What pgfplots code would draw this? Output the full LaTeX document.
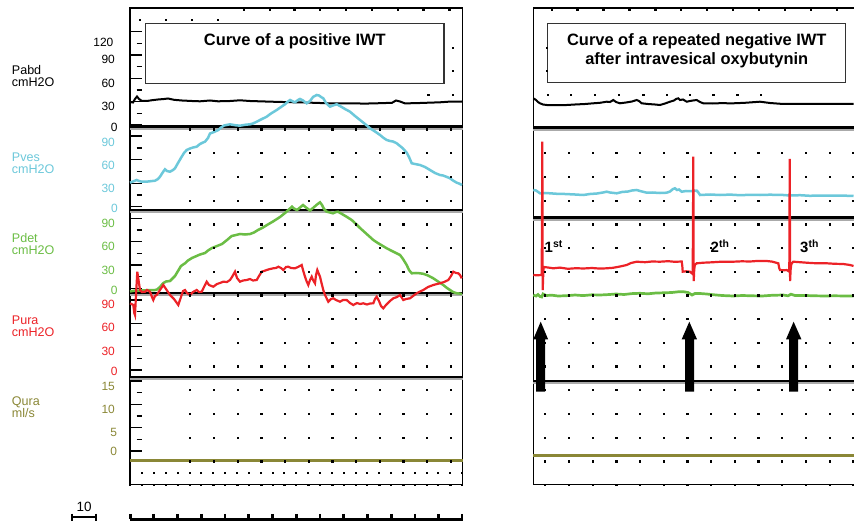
\documentclass[border=0pt]{standalone}
\usepackage{fontspec}
\setmainfont{Liberation Sans}
\usepackage{pgfplots}
\pgfplotsset{compat=1.18}
\definecolor{cyanc}{HTML}{6CC8DA}
\definecolor{greenc}{HTML}{6BBD45}
\definecolor{redc}{HTML}{EC2227}
\definecolor{olivec}{HTML}{8A8736}
\definecolor{shadow}{HTML}{AAAAAA}
\begin{document}
\begin{tikzpicture}
\begin{axis}[name=ax, scale only axis, width=854bp, height=522bp,
  xmin=0, xmax=854, ymin=0, ymax=522, y dir=reverse,
  hide axis, clip=false]
% invisible corners
\addplot[draw=none] coordinates {(0,0) (854,522)};
% ---------- dot grid ----------
\addplot[only marks, mark=square*, mark size=0.65bp, black] coordinates {
   (190,129.3) (213.7,129.3) (237.4,129.3) (261.1,129.3) (284.8,129.3) (308.5,129.3) (332.2,129.3) (355.9,129.3) (379.6,129.3) (403.3,129.3) (427,129.3) (450.7,129.3)};
\pgfplotsinvokeforeach{153,176.7,200.4,224.1,247.8,271.5,295.2,318.9,342.6,366.3,390,413.7,437.4,461.1,484.8}{
  \addplot[only marks, mark=square*, mark size=0.65bp, black] coordinates {
   (190,#1) (213.7,#1) (237.4,#1) (261.1,#1) (284.8,#1) (308.5,#1) (332.2,#1) (355.9,#1) (379.6,#1) (403.3,#1) (427,#1) (450.7,#1)};
  \addplot[only marks, mark=square*, mark size=0.65bp, black] coordinates {
   (545,#1) (568.7,#1) (592.4,#1) (616.1,#1) (639.8,#1) (663.5,#1) (687.2,#1) (710.9,#1) (734.6,#1) (758.3,#1) (782,#1) (805.7,#1) (829.4,#1) (853.1,#1)};
}
\addplot[only marks, mark=square*, mark size=0.65bp, black] coordinates {
 (140,20) (166,20) (192,20) (218,20) (244,9.5) (270,9.5) (294.3,9.5) (320,9.5) (346,9.5) (372,9.5) (397.7,9.5) (423.3,9.5) (449.3,9.5)
 (428.3,95) (452.7,95) (452.7,47.7) (452.7,71)
 (551.7,9.5) (577.3,9.5) (603.3,9.5) (629.3,9.5) (655.3,9.5) (681,9.5) (707,9.5) (733,9.5) (759,9.5) (785,9.5) (810.7,9.5) (836.7,9.5)
 (546.7,47.7) (546.7,71)
 (547.7,95) (571,95) (595,95) (619,95) (643.3,95) (666.7,95) (690,95) (713.3,95) (737.3,95) (760.7,95)};
\pgfplotsinvokeforeach{472.3,484.3}{
 \addplot[only marks, mark=square*, mark size=0.5bp, black] coordinates {
 (130,#1) (141.9,#1) (153.7,#1) (165.6,#1) (177.4,#1) (189.3,#1) (201.1,#1) (213,#1) (224.8,#1) (236.7,#1) (248.5,#1) (260.4,#1) (272.2,#1) (284.1,#1) (295.9,#1) (307.8,#1) (319.6,#1) (331.5,#1) (343.3,#1) (355.2,#1) (367,#1) (378.9,#1) (390.7,#1) (402.6,#1) (414.4,#1) (426.3,#1) (438.1,#1) (450,#1) (461.8,#1)};
}
% ---------- frames ----------
\addplot[black, line width=1.5bp] coordinates {(130,484.5) (130,8) (462.5,8) (462.5,484.3) (130,484.3)};
\addplot[black, line width=1.5bp] coordinates {(533.3,484.5) (533.3,8) (854,8)};
\addplot[black, line width=1.5bp] coordinates {(533.3,484.3) (854,484.3)};
% ---------- left axis ticks ----------
\pgfplotsinvokeforeach{31.7,55,78.3,101.7,125,136,159.7,183.3,206.7,218.3,241.7,265,288.3,300,323.3,346.7,370,381,404.3,427.7,451}{
 \addplot[black, line width=1.2bp] coordinates {(131,#1) (141.5,#1)};}
\pgfplotsinvokeforeach{43.3,66.7,90,113.3,148,171.7,195,230,253.3,276.7,311.7,335,358.3,392.7,416,439.3}{
 \addplot[black, line width=1.2bp] coordinates {(136.5,#1) (141.5,#1)};}
% ---------- baselines ----------
\pgfplotsinvokeforeach{126.5,210,293,377}{
 \addplot[shadow, line width=1.8bp] coordinates {(130,#1+2.2) (462.5,#1+2.2)};
 \addplot[black, line width=2.3bp] coordinates {(130,#1) (462.5,#1)};}
\pgfplotsinvokeforeach{127.5,217.5,381}{
 \addplot[shadow, line width=1.8bp] coordinates {(533.3,#1+2.2) (854,#1+2.2)};
 \addplot[black, line width=2.3bp] coordinates {(533.3,#1) (854,#1)};}
\addplot[olivec, line width=3bp] coordinates {(130,460.5) (462.5,460.5)};
\addplot[olivec, line width=3bp] coordinates {(533.3,455.5) (854,455.5)};
% ---------- title boxes ----------
\addplot[draw=black!80, line width=1.3bp, fill=white] coordinates {(145.7,23.3) (444,23.3) (444,83.3) (145.7,83.3)} -- cycle;
\addplot[draw=black!80, line width=1.3bp, fill=white] coordinates {(547.7,23.3) (845.7,23.3) (845.7,82.7) (547.7,82.7)} -- cycle;
% ---------- left panel traces ----------
% Pabd
\addplot[black, line width=2bp] coordinates {
(130,102) (133,102.5) (135,99) (137,96.5) (139,99) (142,101) (147,101) (152,100.2) (158,99.5) (164,99) (168,98.5) (174,99.8) (182,100.5) (192,101) (200,101.3) (210,100.5) (218,101.3) (230,101) (240,100.3) (250,101) (262,101.4) (275,101.8) (290,102.2) (305,102.5) (320,103) (335,103.5) (350,103.3) (365,103.6) (380,103.2) (392,102.8) (396,100.5) (400,101.5) (405,103.4) (420,103) (440,102.3) (450,101.6) (462,101.5)};
% Pves
\addplot[cyanc, line width=2.5bp] coordinates {
(130,182.7) (133,181.5) (136.7,180) (139,181) (141.7,181.7) (148,181.5) (155,180.7) (158,179) (160,176.7) (163,172) (165,169.3) (167,171) (170,171.7) (173,170) (175,168.3) (178,163) (181.7,156.7) (184,153) (186.7,150) (190,148.5) (193,147.5) (196.7,146.7) (200,144) (203,142.5) (205,141.7) (208,138) (210,133.5) (214,132) (218.3,130) (221,127.5) (224,125.5) (230,124.3) (235,125.2) (240,125.7) (245,124.8) (250,124.3) (253,123.5) (256.7,121.7) (261,119.5) (266.7,116.7) (271,113.5) (276.7,110) (281,107) (285,104.3) (288,101.5) (290,100) (293,101.5) (295,102.3) (298,100) (300,99) (303,100.5) (306.7,103.3) (310,101) (313,97) (316.7,95) (319,95.5) (321,97) (323.3,98.3) (326,103) (330,106.7) (333,105.5) (336.7,104.3) (340,106) (345,109) (350,111.7) (355,116) (360,120) (365,124) (370,128.3) (375,131.5) (380,135) (383,137.5) (386.7,140) (390,141) (393,141.5) (396.7,143.3) (400,146) (403,148.5) (406.7,152.7) (409,157) (411.7,163.3) (415,164) (420,165) (425,167) (430,170) (435,173) (440,175) (443,175.5) (447,177) (450,178.3) (453,180.5) (456.7,182.7) (459,183.5) (462,185)};
% Pdet
\addplot[greenc, line width=2.5bp] coordinates {
(130,291.5) (135,290.5) (140,290.5) (145,290.3) (150,290) (155,290) (157,289.5) (160,287) (163,283.3) (166,281.5) (170,281) (172,279) (175,276) (178,271) (181,266) (185,263.3) (188,260.5) (192,258) (195,256.7) (200,254.5) (205,253) (208,250.5) (212,248) (217,246) (222,244) (227,240) (231.7,236) (236,235) (240,234) (245,234.5) (250,234) (254,232.5) (258,230) (263,227.5) (267,225) (273,221.5) (280,217) (285,213) (290,208.5) (292,206.7) (294,208.5) (297,210) (300,207.5) (303,205) (306,207.5) (310,210.5) (313,208) (317,204.5) (320,202.3) (322,205) (324,209) (326.7,211.7) (330,212.5) (333,213.3) (336,212) (338,211.7) (342,214) (347,217) (351.7,220) (356,224) (360,228) (365,232.5) (370,237) (373.3,240) (377,242.5) (382,245.5) (386.7,248.3) (392,251) (396,253) (400,255) (403,259) (406.7,265) (409,270) (411.7,273.3) (416,273) (420,273.3) (423.3,273.8) (428,275.5) (433.3,278.3) (438,281.5) (443.3,285) (447,288) (450,290) (453,292) (456.7,293.3) (459,293.5) (462,294)};
% Pura
\addplot[redc, line width=2.2bp] coordinates {
(130,303.3) (131.5,304) (133.3,305) (134.3,313) (135,315) (136,295) (137.3,271.7) (138.5,280) (140,290) (142,292) (145,291.7) (147,290) (150,291.7) (152,297) (153.3,300) (155,296) (156.7,295) (160,290) (163.3,285) (166,289) (170,295) (174,299) (178.3,305) (181,297) (183,291) (185,290) (187,293) (190,295) (193,292) (196.7,290) (199,292) (201.7,291.7) (204,287) (206.7,281.7) (209,285) (213.3,286.7) (217,284) (220,283) (223.3,281.7) (227,282) (230,280) (232,277) (235,271.7) (237,278) (240,281.7) (243,280.5) (246.7,280) (250,279) (253,280.5) (256.7,280) (259,276) (261.7,271.7) (264,271) (266.7,270) (270,269) (273.3,268.3) (276,268) (278.3,266.7) (281,268) (283.3,270) (286,267) (288.3,266.7) (291,268) (295,268.3) (298,267) (301.7,265) (303,270) (305,276.7) (306.5,281) (308.3,285) (310,280) (311.7,276.7) (313,280) (315,283.3) (316,275) (317.3,270) (318.5,273) (320,276.7) (321.5,283) (323.3,290) (325,295) (328.3,301.7) (331,299) (333.3,298.3) (336,300) (340,301.7) (343,300) (346.7,300) (350,303) (353.3,305) (357,303) (360,304) (363.3,303.3) (367,304.5) (370,303.5) (373.3,303.3) (375,299) (376.7,296.7) (379,301) (381,306) (383.3,308.3) (386,305) (390,301) (393.3,298.3) (397,297) (400,295) (402,298) (403.3,300) (406,299) (410,298.3) (413,296) (416.7,293.3) (420,291.5) (423.3,290) (428,287) (433.3,285) (437,284) (440,283.3) (444,282) (448.3,280) (451,276) (453.3,271.7) (456,273) (458.3,273.3) (460,275) (461.7,278.3)};
% ---------- right panel traces ----------
\addplot[black, line width=2bp] coordinates {
(533.3,98.3) (536,100) (538,102) (540,103.3) (543,104.5) (546.7,105) (555,105.2) (566.7,105) (575,104.5) (585,104) (593.3,103.3) (600,102.8) (606.7,101.7) (610,102) (613.3,100) (616,102) (620,103.3) (626,102.5) (632,101.5) (636.7,100) (639,101) (641.7,103.3) (648,104) (655,104.5) (660,105) (665,103.5) (670,101.7) (674,100.5) (676,99) (678.3,98.3) (680,100) (683,99.5) (686.7,101.7) (690,101) (693,100.5) (696.7,100) (700,102) (703.3,103.3) (712,103.5) (720,103.2) (733.3,103.3) (745,102.8) (760,101.7) (770,103) (783.3,104) (800,104) (820,103.8) (840,104) (853.5,104)};
\addplot[cyanc, line width=2.5bp] coordinates {
(533.3,190) (536,190.5) (540,193.3) (545,193) (550,193.3) (557,193.8) (565,194) (575,194.5) (583.3,195) (590,194) (597,193.5) (603,192.5) (606.7,191.7) (610,192.5) (616.7,193.3) (622,192) (628,191.5) (632,190.5) (636.7,190) (640,191) (646.7,192.7) (652,192.5) (660,193) (666.7,192.7) (670,191.5) (673,189) (675,188.3) (677,190) (679,189.5) (681.7,191.7) (686,191) (690,191.2) (694,190.8) (696.7,190.7) (698,192) (700,195) (710,194.5) (720,195) (730,194.6) (740,195.2) (750,194.8) (760,195) (770,194.7) (783.3,195) (790,195.5) (800,195.2) (810,195.8) (820,195.5) (830,195.7) (840,195.5) (853.5,196)};
\addplot[greenc, line width=2.7bp] coordinates {
(533.3,295) (536,296) (538,294.5) (540,296.5) (541.7,297) (543,294) (546,295.5) (552,295.2) (558,296) (566.7,295.7) (575,295) (583,295.6) (592,294.8) (600,295) (608,294.6) (616,294) (624,294.5) (632,293.6) (640,293.3) (648,293.8) (656,293) (664,292.8) (672,292.5) (678,291.8) (683.3,291.7) (688,292.5) (692,295) (695,293.5) (700,293.5) (706.7,294) (714,294.8) (722,295.5) (733.3,296) (742,295.5) (752,295.8) (762,296) (772,295.3) (783.3,295) (788,295.8) (791,294.2) (795,295.5) (805,295.5) (815,295.8) (825,296) (835,295.8) (845,296) (853.5,296)};
\addplot[redc, line width=2.2bp] coordinates {
(533.3,275) (537,275.3) (541.7,275) (542.1,200) (542.3,141.7) (542.5,220) (542.7,290) (543.2,275) (543.6,267) (548,267.5) (553.3,268.3) (560,267.6) (568,268.8) (576,268.2) (583.3,268.5) (592,268) (600,268.6) (606.7,268.3) (613,267.8) (620,266.5) (626.7,265) (631,263) (636.7,261.7) (645,262.2) (652,261.5) (660,261.7) (668,261.2) (675,261.8) (681.7,261.5) (682.3,266) (682.7,271.7) (686,271.3) (690,271.7) (692.7,274) (693.1,200) (693.3,156.7) (693.5,230) (693.7,281) (694.2,270) (694.8,265) (696.7,263.3) (703.3,262.7) (712,262.3) (720,261.8) (733.3,261.7) (742,261.3) (750,261.5) (758,260.9) (766.7,261) (772,261.6) (778.3,263.3) (779.2,268) (780,270) (784,270.3) (786.7,270) (789.3,271.7) (789.5,220) (789.7,159) (789.9,220) (790.1,281) (790.6,270) (791.3,264) (793.3,261.7) (800,262.2) (808,262.8) (816.7,263.3) (825,263.2) (835,263.8) (843.3,264) (850,265) (853.5,266)};
% arrows
\addplot[fill=black, draw=none] coordinates {(536,391.5) (536,339.3) (533.3,339.3) (540.7,321.7) (548.1,339.3) (545.2,339.3) (545.2,391.5)} -- cycle;
\addplot[fill=black, draw=none] coordinates {(685,391.5) (685,339.3) (681.7,339.3) (689.3,321.7) (697,339.3) (694,339.3) (694,391.5)} -- cycle;
\addplot[fill=black, draw=none] coordinates {(789.2,391.5) (789.2,339.3) (786,339.3) (793.6,321.7) (801.4,339.3) (798.2,339.3) (798.2,391.5)} -- cycle;
% ---------- scale bar and time ruler ----------
\addplot[black, line width=2.2bp] coordinates {(72,517) (96,517)};
\addplot[black, line width=1.8bp] coordinates {(72,513.5) (72,520.7)};
\addplot[black, line width=1.8bp] coordinates {(96,513.5) (96,520.7)};
\addplot[black, line width=3bp] coordinates {(130,519) (462.5,519)};
\pgfplotsinvokeforeach{130.5,153.75,177.5,201.25,225,248.75,272.5,296.25,320,343.75,367.5,391.25,415,438.75,461.8}{
 \addplot[black, line width=2.6bp] coordinates {(#1,513.8) (#1,518.5)};}
% ---------- texts ----------
\node[font=\fontsize{16.5}{20}\selectfont\bfseries, anchor=base] at (axis cs:294.8,45.3) {Curve of a positive IWT};
\node[font=\fontsize{16.5}{20}\selectfont\bfseries, anchor=base] at (axis cs:696.8,45.5) {Curve of a repeated negative IWT};
\node[font=\fontsize{16.5}{20}\selectfont\bfseries, anchor=base] at (axis cs:696.8,65) {after intravesical oxybutynin};
% channel names
\begin{scope}[every node/.style={anchor=base west, inner sep=0pt, font=\fontsize{12.6}{12.6}\selectfont}]
\node at (axis cs:11.7,74.6) {Pabd};
\node at (axis cs:11.7,86.2) {cmH2O};
\node[text=cyanc] at (axis cs:11.7,161) {Pves};
\node[text=cyanc] at (axis cs:11.7,173.5) {cmH2O};
\node[text=greenc] at (axis cs:11.7,242.5) {Pdet};
\node[text=greenc] at (axis cs:11.7,254.5) {cmH2O};
\node[text=redc] at (axis cs:11.7,324) {Pura};
\node[text=redc] at (axis cs:11.7,336.2) {cmH2O};
\node[text=olivec] at (axis cs:11.7,405.5) {Qura};
\node[text=olivec] at (axis cs:11.7,417.5) {ml/s};
\end{scope}
% tick numbers
\begin{scope}[every node/.style={anchor=base east, inner sep=0pt, font=\fontsize{12}{12}\selectfont}]
\node at (axis cs:113.5,46.7) {120};
\node at (axis cs:115,64) {90};
\node at (axis cs:115,87.3) {60};
\node at (axis cs:115,110.7) {30};
\node at (axis cs:117.7,131.7) {0};
\node[text=cyanc] at (axis cs:115,146) {90};
\node[text=cyanc] at (axis cs:115,169) {60};
\node[text=cyanc] at (axis cs:115,192.7) {30};
\node[text=cyanc] at (axis cs:118,212.7) {0};
\node[text=greenc] at (axis cs:115,227.3) {90};
\node[text=greenc] at (axis cs:115,250.7) {60};
\node[text=greenc] at (axis cs:115,274) {30};
\node[text=greenc] at (axis cs:117.7,294.3) {0};
\node[text=redc] at (axis cs:115,308.3) {90};
\node[text=redc] at (axis cs:115,331.7) {60};
\node[text=redc] at (axis cs:115,355.7) {30};
\node[text=redc] at (axis cs:117.7,375.7) {0};
\node[text=olivec] at (axis cs:115,390) {15};
\node[text=olivec] at (axis cs:115,413.3) {10};
\node[text=olivec] at (axis cs:117.3,436.7) {5};
\node[text=olivec] at (axis cs:117.3,455.7) {0};
\end{scope}
\node[anchor=base, inner sep=0pt, font=\fontsize{13.5}{13.5}\selectfont] at (axis cs:84.2,511.7) {10};
% event labels
\begin{scope}[every node/.style={anchor=base west, inner sep=0pt, font=\fontsize{15}{15}\selectfont\bfseries}]
\node at (axis cs:544.5,252.7) {1\textsuperscript{st}};
\node at (axis cs:710.5,252.7) {2\textsuperscript{th}};
\node at (axis cs:800,252.7) {3\textsuperscript{th}};
\end{scope}
\end{axis}
\pgfresetboundingbox
\path (ax.south west) rectangle (ax.north east);
\end{tikzpicture}
\end{document}
